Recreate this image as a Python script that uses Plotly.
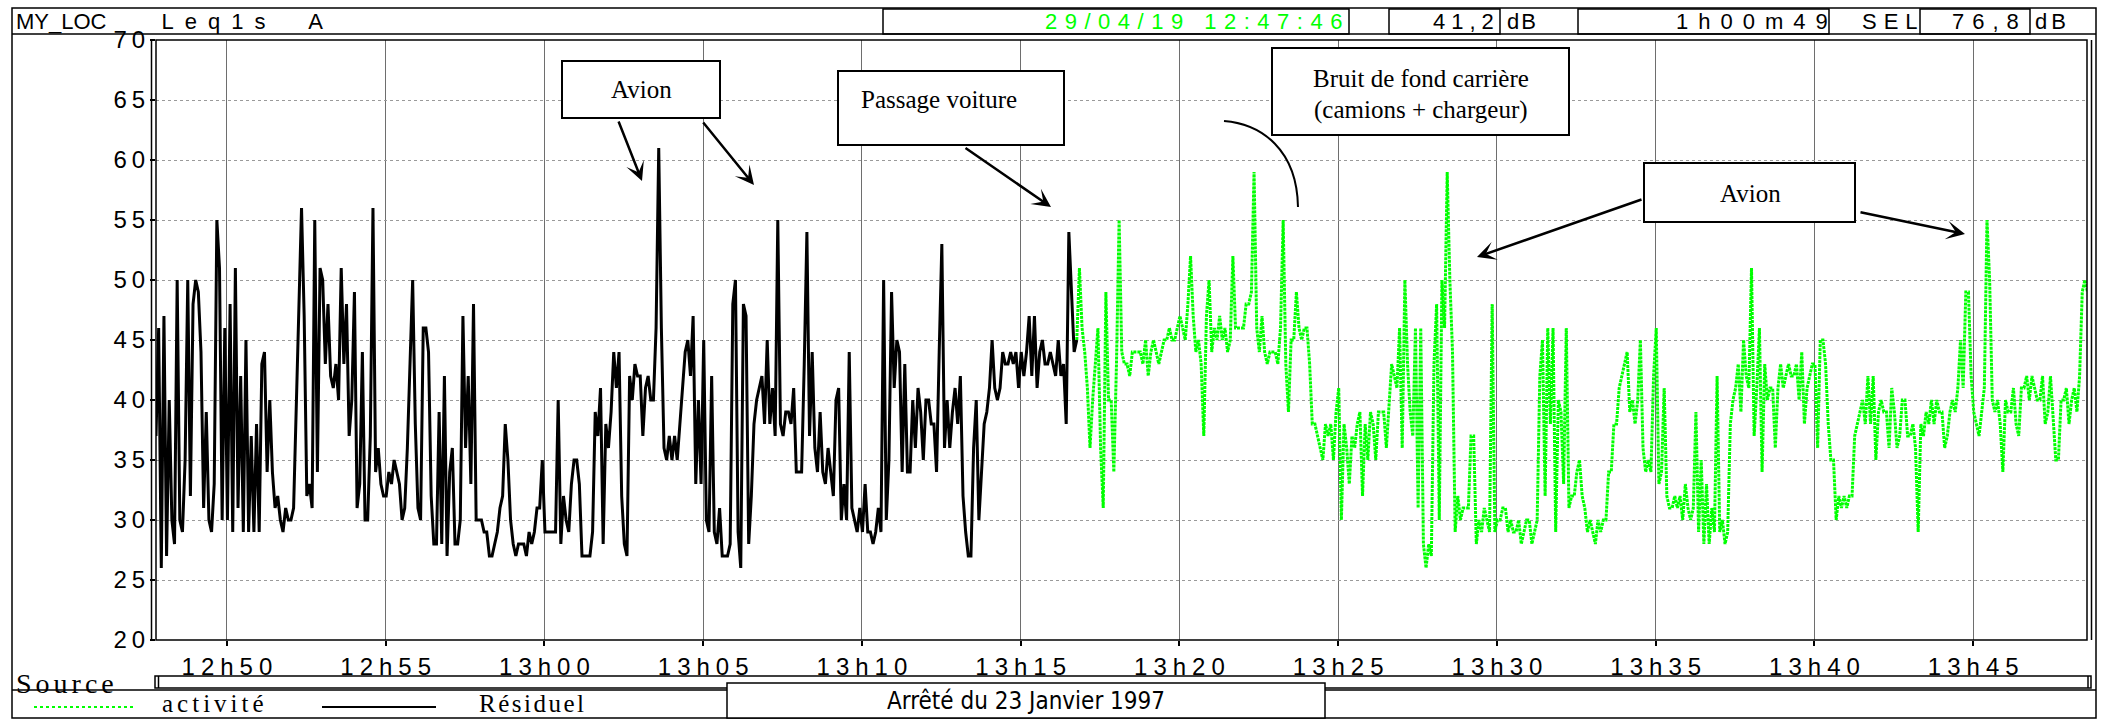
import pandas as pd
import plotly.graph_objects as go

# ---------------- data (Leq, dB(A), sampled every 5 s from 12:47:46) ----------------
START = "2019-04-29 12:47:46"
DURATION = "1h00m49s"
STEP = "5s"

residuel_db = [
    37, 46, 26, 47, 27, 40, 30, 28, 50, 30,
    29, 35, 50, 32, 48, 50, 49, 44, 31, 39,
    30, 29, 33, 55, 51, 30, 46, 30, 48, 29,
    51, 31, 42, 29, 45, 29, 37, 29, 38, 29,
    43, 44, 34, 40, 34, 31, 32, 30, 29, 31,
    30, 30, 31, 39, 46, 56, 47, 32, 33, 31,
    55, 34, 51, 50, 43, 48, 42, 41, 43, 40,
    51, 43, 48, 37, 40, 49, 31, 33, 44, 30,
    30, 37, 56, 34, 36, 33, 32, 32, 34, 33,
    35, 34, 33, 30, 31, 36, 43, 50, 38, 31,
    30, 46, 46, 44, 32, 28, 28, 39, 28, 42,
    27, 34, 36, 28, 28, 30, 47, 36, 42, 33,
    48, 30, 30, 30, 29, 29, 27, 27, 28, 29,
    31, 32, 38, 35, 30, 28, 27, 28, 28, 28,
    27, 29, 28, 29, 31, 31, 35, 29, 29, 29,
    29, 29, 40, 28, 32, 30, 29, 33, 35, 35,
    33, 27, 27, 27, 27, 29, 39, 37, 41, 28,
    38, 36, 39, 44, 41, 44, 32, 28, 27, 42,
    40, 43, 42, 42, 37, 41, 42, 40, 40, 46,
    61, 46, 36, 35, 37, 35, 37, 35, 38, 41,
    44, 45, 42, 47, 33, 40, 33, 45, 30, 29,
    42, 29, 28, 31, 27, 27, 27, 28, 48, 50,
    29, 26, 48, 47, 28, 32, 38, 40, 41, 42,
    38, 45, 38, 41, 37, 55, 38, 37, 39, 39,
    38, 41, 34, 34, 34, 43, 54, 37, 44, 36,
    34, 39, 34, 33, 36, 34, 32, 40, 41, 30,
    33, 30, 44, 31, 30, 29, 31, 29, 33, 29,
    29, 28, 29, 31, 29, 50, 30, 35, 49, 41,
    45, 44, 34, 43, 34, 34, 40, 36, 41, 39,
    35, 40, 40, 38, 38, 34, 44, 53, 36, 40,
    36, 39, 41, 38, 42, 32, 29, 27, 27, 36,
    40, 30, 34, 38, 39, 41, 45, 41, 40, 41,
    44, 43, 43, 44, 43, 44, 41, 44, 42, 44,
    47, 42, 47, 41, 44, 45, 43, 43, 44, 43,
    42, 45, 42, 43, 38, 54, 49, 44, 45,
]

activite_db = [
    45, 51, 46, 44, 41, 36, 40, 43, 46, 36,
    31, 49, 40, 40, 34, 43, 55, 44, 43, 43,
    42, 44, 44, 44, 44, 43, 45, 42, 44, 45,
    44, 43, 44, 45, 45, 46, 45, 45, 46, 47,
    46, 45, 48, 52, 47, 44, 45, 43, 37, 47,
    50, 44, 46, 45, 47, 45, 46, 44, 45, 52,
    46, 46, 46, 46, 48, 48, 49, 59, 46, 44,
    47, 44, 43, 44, 44, 44, 43, 46, 55, 43,
    39, 45, 45, 49, 46, 45, 46, 46, 43, 38,
    38, 37, 36, 35, 38, 37, 38, 35, 39, 41,
    30, 38, 36, 33, 37, 36, 38, 39, 32, 38,
    35, 39, 38, 35, 39, 39, 39, 36, 40, 43,
    42, 41, 46, 36, 50, 43, 39, 37, 46, 31,
    46, 28, 26, 28, 27, 43, 48, 30, 50, 46,
    59, 50, 44, 29, 32, 30, 31, 31, 31, 37,
    37, 28, 30, 29, 31, 30, 29, 48, 29, 30,
    30, 31, 31, 29, 30, 29, 29, 30, 28, 29,
    30, 30, 28, 29, 30, 42, 45, 32, 46, 38,
    46, 29, 40, 39, 33, 46, 31, 32, 32, 34,
    35, 32, 31, 29, 30, 29, 28, 30, 29, 30,
    30, 34, 34, 38, 38, 41, 42, 43, 44, 39,
    40, 38, 40, 45, 36, 34, 35, 34, 42, 46,
    33, 34, 41, 32, 31, 31, 32, 31, 32, 30,
    33, 31, 30, 31, 39, 29, 35, 28, 33, 28,
    31, 29, 42, 29, 30, 28, 29, 38, 40, 41,
    43, 39, 45, 42, 41, 51, 37, 41, 46, 34,
    43, 40, 41, 41, 36, 41, 43, 41, 42, 43,
    42, 42, 43, 40, 44, 38, 41, 42, 43, 43,
    36, 45, 45, 43, 38, 35, 35, 30, 32, 31,
    32, 31, 32, 32, 37, 38, 39, 40, 38, 42,
    38, 42, 35, 39, 40, 39, 39, 36, 41, 39,
    36, 37, 40, 40, 37, 37, 38, 36, 29, 38,
    37, 39, 38, 40, 38, 40, 39, 39, 36, 37,
    39, 40, 39, 41, 45, 41, 49, 49, 42, 39,
    38, 37, 39, 41, 55, 50, 40, 39, 40, 38,
    34, 40, 39, 39, 41, 38, 37, 41, 41, 42,
    40, 42, 41, 40, 40, 42, 38, 39, 42, 38,
    35, 35, 40, 40, 41, 38, 40, 41, 39, 42,
    49, 50, 49,
]

x_tick_times = ["2019-04-29 12:50", "2019-04-29 12:55", "2019-04-29 13:00",
                "2019-04-29 13:05", "2019-04-29 13:10", "2019-04-29 13:15",
                "2019-04-29 13:20", "2019-04-29 13:25", "2019-04-29 13:30",
                "2019-04-29 13:35", "2019-04-29 13:40", "2019-04-29 13:45"]
x_tick_labels = ["12h50", "12h55", "13h00", "13h05", "13h10", "13h15",
                 "13h20", "13h25", "13h30", "13h35", "13h40", "13h45"]
y_ticks = [20, 25, 30, 35, 40, 45, 50, 55, 60, 65, 70]

header_title = ["MY_LOC", "Leq1s", "A"]
header_date = "29/04/19 12:47:46"
header_leq = "41,2"
header_duration = "1h00m49"
header_sel = "76,8"

# ---------------- time axes ----------------
t_res = pd.date_range(START, periods=len(residuel_db), freq=STEP)
t_act = pd.date_range(t_res[-1], periods=len(activite_db), freq=STEP)
t_end = pd.Timestamp(START) + pd.Timedelta(DURATION)

# ---------------- layout helpers (pixel -> paper) ----------------
W, H = 2103, 719
PL, PR, PT, PB = 156, 2087, 40, 640


def fx(x):
    return (x - PL) / (PR - PL)


def fy(y):
    return (PB - y) / (PB - PT)


def ls(s, sp):
    # letter-spacing between characters (none after the last one)
    if len(s) < 2:
        return s
    return f'<span style="letter-spacing:{sp}px">{s[:-1]}</span>{s[-1]}'


SANS = "Liberation Sans, Arial, sans-serif"
SERIF = "Liberation Serif, Times New Roman, serif"
NARROW = "Liberation Sans Narrow, Arial Narrow, DejaVu Sans Condensed, sans-serif"
NB = "\u00a0"
EN = "\u2002"

shapes = []
annotations = []


def rect(x0, y0, x1, y1, width=1.5, fill="rgba(0,0,0,0)", color="black"):
    shapes.append(dict(type="rect", xref="paper", yref="paper",
                       x0=fx(x0), x1=fx(x1), y0=fy(y1), y1=fy(y0),
                       line=dict(color=color, width=width), fillcolor=fill, layer="above"))


def line(x0, y0, x1, y1, width=1.5, color="black", dash="solid"):
    shapes.append(dict(type="line", xref="paper", yref="paper",
                       x0=fx(x0), x1=fx(x1), y0=fy(y0), y1=fy(y1),
                       line=dict(color=color, width=width, dash=dash), layer="above"))


def text(x, y, s, size, family, color="black", xanchor="center", sp=0, raw=False):
    annotations.append(dict(xref="paper", yref="paper", x=fx(x), y=fy(y),
                            text=s if (raw or not sp) else ls(s, sp), showarrow=False,
                            xanchor=xanchor, yanchor="middle",
                            font=dict(size=size, family=family, color=color)))


def arrow(x0, y0, x1, y1):
    annotations.append(dict(xref="x domain", yref="y domain", axref="x domain", ayref="y domain",
                            x=fx(x1), y=fy(y1), ax=fx(x0), ay=fy(y0), text="",
                            showarrow=True, arrowhead=3, arrowsize=1.25, arrowwidth=2.5,
                            arrowcolor="black", standoff=0, startstandoff=0))


# ---------------- figure ----------------
fig = go.Figure()
fig.add_trace(go.Scatter(x=t_res, y=residuel_db, mode="lines", name="Résiduel",
                         line=dict(color="black", width=3), showlegend=False))
fig.add_trace(go.Scatter(x=t_act, y=activite_db, mode="lines", name="activité",
                         line=dict(color="#00ff00", width=3, dash="3px,1px"), showlegend=False))

# outer frame and header
rect(12, 8, 2096, 718, width=1.5)
line(12, 34, 2096, 34, width=1.5)
rect(883, 9, 1349, 34, width=1.5)
rect(1389, 9, 1500, 34, width=1.5)
rect(1578, 9, 1829, 34, width=1.5)
rect(1920, 9, 2030, 34, width=1.5)
title_plain = (header_title[0] + NB * 9 + EN.join(header_title[1])
               + NB * 7 + header_title[2])
text(169, 22, title_plain, 22, SANS, raw=True)
text(1193, 22, header_date, 22, SANS, color="#00ff00", sp=7.5)
text(1463, 22, header_leq, 22, SANS, sp=6)
text(1521, 22, "dB", 22, SANS, sp=2)
text(1752, 22, header_duration, 22, SANS, sp=10)
text(1890, 22, "SEL", 22, SANS, sp=7)
text(1985, 22, header_sel, 22, SANS, sp=8)
text(2050, 22, "dB", 22, SANS, sp=4)

# plot frame (double vertical edges)
rect(PL, PT, PR, PB, width=1.5)
line(151.5, PT, 151.5, PB, width=1.5)
line(2091.5, PT, 2091.5, PB, width=1.5)

# source bar + bottom row
rect(155, 676, 2091, 688, width=1.5)
line(158.5, 676, 158.5, 688, width=1.5)
line(2088, 676, 2088, 688, width=1.5)
line(12, 690, 2096, 690, width=1.5)
text(65, 683, "Source", 28, SERIF, sp=4)
rect(727, 683, 1325, 718, width=1.5, fill="white")
text(1026, 701, "Arrêté du 23 Janvier 1997", 24, NARROW)
line(34, 707, 134, 707, width=2, color="#00ff00", dash="dot")
text(213, 703, "activité", 25, SERIF, sp=4)
line(322, 707, 436, 707, width=2)
text(531, 703, "Résiduel", 25, SERIF, sp=2.5)

# annotation boxes
rect(562, 61, 720, 118, width=2, fill="white")
text(641, 89, "Avion", 25, SERIF)
rect(838, 71, 1064, 145, width=2, fill="white")
text(859, 99, "Passage voiture", 25, SERIF, xanchor="left")
rect(1272, 48, 1569, 135, width=2, fill="white")
text(1421, 78, "Bruit de fond carrière", 25, SERIF)
text(1421, 110, "(camions + chargeur)", 25, SERIF)
rect(1644, 163, 1855, 222, width=2, fill="white")
text(1750, 193, "Avion", 25, SERIF)

arrow(618, 120, 642, 181)
arrow(702, 121, 754, 185)
arrow(964, 147, 1051, 207)
arrow(1643, 199, 1477, 257)
arrow(1859, 212, 1965, 234)

shapes.append(dict(type="path", xref="paper", yref="paper",
                   path=(f"M {fx(1224)},{fy(121)} C {fx(1262)},{fy(124)} "
                         f"{fx(1297)},{fy(150)} {fx(1298)},{fy(207)}"),
                   line=dict(color="black", width=2), layer="above"))

fig.update_layout(
    width=W, height=H,
    margin=dict(l=PL, r=W - PR, t=PT, b=H - PB),
    paper_bgcolor="white", plot_bgcolor="white",
    shapes=shapes, annotations=annotations,
    showlegend=False,
    xaxis=dict(range=[pd.Timestamp(START), t_end], type="date",
               tickvals=x_tick_times, ticktext=[ls(s, 6) for s in x_tick_labels],
               tickfont=dict(size=24, family=SANS, color="black"),
               ticks="outside", ticklen=5, tickcolor="black", tickwidth=1.5,
               showgrid=True, gridcolor="#6e6e6e", gridwidth=1,
               zeroline=False, showline=False),
    yaxis=dict(range=[20, 70], tickvals=y_ticks, ticktext=[ls(str(v), 5) for v in y_ticks],
               tickfont=dict(size=24, family=SANS, color="black"),
               ticks="outside", ticklen=5, tickcolor="black", tickwidth=1.5,
               showgrid=True, gridcolor="#9a9a9a", gridwidth=1.2, griddash="dot",
               zeroline=False, showline=False),
)

fig.write_html("out.html")
